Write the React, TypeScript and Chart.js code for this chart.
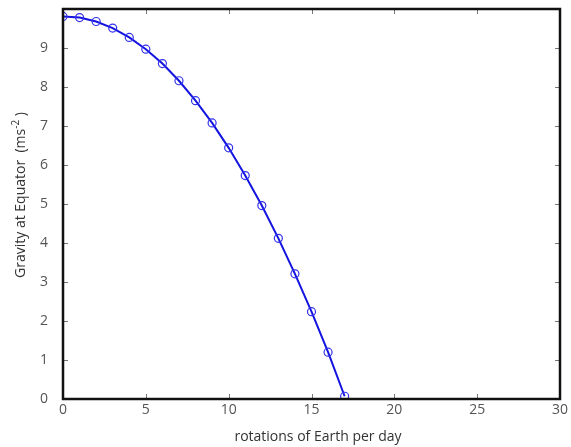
import React, { useEffect, useRef } from "react";
import { Chart, registerables } from "chart.js";

Chart.register(...registerables);

const rotations = [0, 1, 2, 3, 4, 5, 6, 7, 8, 9, 10, 11, 12, 13, 14, 15, 16, 17];
const gravity = [9.81, 9.78, 9.68, 9.51, 9.27, 8.97, 8.6, 8.16, 7.65, 7.08, 6.44, 5.73, 4.96, 4.12, 3.21, 2.24, 1.2, 0.07];
const xTicks = [0, 5, 10, 15, 20, 25, 30];
const yTicks = [0, 1, 2, 3, 4, 5, 6, 7, 8, 9];
const xTitle = "rotations of Earth per day";
const yTitleMain = "Gravity at Equator  (ms";
const yTitleSup = "-2";
const yTitleEnd = " )";

const FONT = "'Open Sans', Lato, sans-serif";

const framePlugin = {
  id: "frame",
  afterDatasetsDraw(chart: any) {
    const { ctx, chartArea: a, scales } = chart;
    ctx.save();
    ctx.strokeStyle = "#777";
    ctx.lineWidth = 1;
    const tl = 5;
    for (const v of xTicks) {
      const px = Math.round(scales.x.getPixelForValue(v)) + 0.5;
      ctx.beginPath();
      ctx.moveTo(px, a.bottom);
      ctx.lineTo(px, a.bottom - tl);
      ctx.moveTo(px, a.top);
      ctx.lineTo(px, a.top + tl);
      ctx.stroke();
    }
    for (const v of yTicks) {
      const py = Math.round(scales.y.getPixelForValue(v)) + 0.5;
      ctx.beginPath();
      ctx.moveTo(a.left, py);
      ctx.lineTo(a.left + tl, py);
      ctx.moveTo(a.right, py);
      ctx.lineTo(a.right - tl, py);
      ctx.stroke();
    }
    ctx.strokeStyle = "#111";
    ctx.lineWidth = 2.5;
    ctx.strokeRect(a.left, a.top, a.right - a.left, a.bottom - a.top);
    ctx.restore();
  },
  afterDraw(chart: any) {
    const { ctx } = chart;
    ctx.save();
    ctx.fillStyle = "#333";
    ctx.font = `14px ${FONT}`;
    ctx.textAlign = "center";
    ctx.textBaseline = "middle";
    ctx.fillText(xTitle, 318, 437);
    ctx.translate(21, 195);
    ctx.rotate(-Math.PI / 2);
    ctx.textAlign = "left";
    ctx.textBaseline = "middle";
    const mainW = ctx.measureText(yTitleMain).width;
    ctx.font = `10px ${FONT}`;
    const supW = ctx.measureText(yTitleSup).width;
    ctx.font = `14px ${FONT}`;
    const endW = ctx.measureText(yTitleEnd).width;
    const total = mainW + supW + endW;
    let x = -total / 2;
    ctx.fillText(yTitleMain, x, 0);
    x += mainW;
    ctx.font = `10px ${FONT}`;
    ctx.fillText(yTitleSup, x, -5);
    x += supW;
    ctx.font = `14px ${FONT}`;
    ctx.fillText(yTitleEnd, x, 0);
    ctx.restore();
  },
};

export default function App() {
  const ref = useRef<HTMLCanvasElement>(null);
  useEffect(() => {
    document.body.style.margin = "0";
    const chart = new Chart(ref.current!, {
      type: "line",
      data: {
        datasets: [
          {
            data: rotations.map((r, i) => ({ x: r, y: gravity[i] })),
            borderColor: "rgb(20,20,225)",
            borderWidth: 2,
            pointRadius: 4,
            pointBorderWidth: 1.2,
            pointBorderColor: "rgb(50,50,235)",
            pointBackgroundColor: "rgba(0,0,0,0)",
            tension: 0,
          },
        ],
      },
      options: {
        animation: false,
        responsive: false,
        layout: { padding: { top: 9, right: 11, left: 0, bottom: 0 } },
        plugins: { legend: { display: false }, tooltip: { enabled: false } },
        scales: {
          x: {
            type: "linear",
            min: 0,
            max: 30,
            afterBuildTicks: (s: any) => {
              s.ticks = xTicks.map((v) => ({ value: v }));
            },
            afterFit: (s: any) => {
              s.height = 48;
              s.paddingLeft = 0;
              s.paddingRight = 0;
            },
            grid: { display: false, drawTicks: false },
            border: { display: false },
            ticks: { padding: 3, color: "#555", font: { family: FONT, size: 14 } },
          },
          y: {
            type: "linear",
            min: 0,
            max: 10,
            afterBuildTicks: (s: any) => {
              s.ticks = yTicks.map((v) => ({ value: v }));
            },
            afterFit: (s: any) => {
              s.width = 63;
              s.paddingTop = 0;
              s.paddingBottom = 0;
            },
            grid: { display: false, drawTicks: false },
            border: { display: false },
            ticks: { padding: 15, color: "#555", font: { family: FONT, size: 14 } },
          },
        },
      },
      plugins: [framePlugin],
    });
    return () => chart.destroy();
  }, []);
  return (
    <div style={{ width: 571, height: 447 }}>
      <canvas ref={ref} width={571} height={447} />
    </div>
  );
}
